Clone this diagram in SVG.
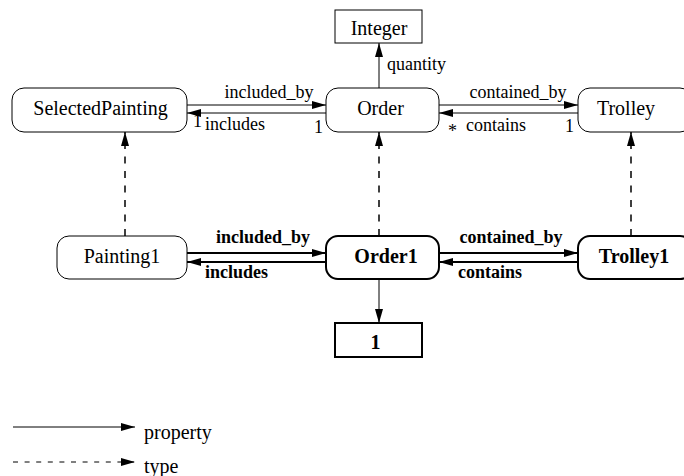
<svg xmlns="http://www.w3.org/2000/svg" width="684" height="476" viewBox="0 0 684 476" font-family="'Liberation Serif', 'Times New Roman', 'DejaVu Serif', serif">
  <defs>
    <style>
      text { font-family: "Liberation Serif", "Times New Roman", "DejaVu Serif", serif; fill: #000; }
      .name { font-size: 20px; text-anchor: middle; }
      .bold { font-weight: bold; }
      .lbl { font-size: 18px; }
      .leg { font-size: 20px; }
      .node { fill: #fff; stroke: #000; stroke-width: 1; }
      .inst { fill: #fff; stroke: #000; stroke-width: 2; }
      .prop { stroke: #000; stroke-width: 1; fill: none; }
      .propb { stroke: #000; stroke-width: 2; fill: none; }
      .type { stroke: #000; stroke-width: 1.5; fill: none; stroke-dasharray: 7 7.5; }
      .legtype { stroke: #000; stroke-width: 1; fill: none; stroke-dasharray: 5 6.6; }
    </style>
    <marker id="arr" viewBox="0 0 14 8" refX="14" refY="4" markerWidth="14" markerHeight="8" markerUnits="userSpaceOnUse" orient="auto">
      <path d="M0,0 L14,4 L0,8 Z" fill="#000"/>
    </marker>
  </defs>

  <!-- connectors -->
  <g id="connectors">
    <!-- class level properties -->
    <line class="prop" x1="187" y1="105" x2="326" y2="105" marker-end="url(#arr)"/>
    <line class="prop" x1="326" y1="113" x2="187" y2="113" marker-end="url(#arr)"/>
    <line class="prop" x1="439" y1="105" x2="578" y2="105" marker-end="url(#arr)"/>
    <line class="prop" x1="578" y1="113" x2="439" y2="113" marker-end="url(#arr)"/>
    <line class="prop" x1="379" y1="88" x2="379" y2="43" marker-end="url(#arr)"/>

    <!-- instance level properties -->
    <line class="propb" x1="187" y1="253" x2="326" y2="253" marker-end="url(#arr)"/>
    <line class="propb" x1="326" y1="262" x2="187" y2="262" marker-end="url(#arr)"/>
    <line class="propb" x1="439" y1="253" x2="578" y2="253" marker-end="url(#arr)"/>
    <line class="propb" x1="578" y1="262" x2="439" y2="262" marker-end="url(#arr)"/>
    <line class="prop" x1="379" y1="279" x2="379" y2="323" marker-end="url(#arr)"/>

    <!-- type links -->
    <line class="type" x1="125" y1="236" x2="125" y2="132" marker-end="url(#arr)"/>
    <line class="type" x1="379" y1="236" x2="379" y2="132" marker-end="url(#arr)"/>
    <line class="type" x1="631" y1="236" x2="631" y2="132" marker-end="url(#arr)"/>

    <!-- connector labels -->
    <text class="lbl" x="269" y="98" text-anchor="middle">included_by</text>
    <text class="lbl" x="205" y="130">includes</text>
    <text class="lbl" x="193" y="127">1</text>
    <text class="lbl" x="314" y="133">1</text>
    <text class="lbl" x="518" y="98" text-anchor="middle">contained_by</text>
    <text class="lbl" x="466" y="131">contains</text>
    <text class="lbl" x="448" y="137">*</text>
    <text class="lbl" x="565" y="132">1</text>
    <text class="lbl" x="387" y="70">quantity</text>

    <text class="lbl bold" x="263" y="243" text-anchor="middle">included_by</text>
    <text class="lbl bold" x="205" y="278">includes</text>
    <text class="lbl bold" x="511" y="243" text-anchor="middle">contained_by</text>
    <text class="lbl bold" x="458" y="278">contains</text>
  </g>

  <!-- class nodes -->
  <g id="integer">
    <rect class="node" x="335" y="10" width="87" height="33"/>
    <text class="name" x="379" y="35">Integer</text>
  </g>
  <g id="selectedpainting">
    <rect class="node" x="12" y="88" width="175" height="44" rx="12"/>
    <text class="name" x="100.5" y="115">SelectedPainting</text>
  </g>
  <g id="order">
    <rect class="node" x="326" y="88" width="113" height="44" rx="12"/>
    <text class="name" x="380.5" y="115">Order</text>
  </g>
  <g id="trolley">
    <rect class="node" x="578" y="88" width="114" height="44" rx="12"/>
    <text class="name" x="626" y="115">Trolley</text>
  </g>

  <!-- instance nodes -->
  <g id="painting1">
    <rect class="node" x="57" y="236" width="130" height="43" rx="12"/>
    <text class="name" x="122" y="263">Painting1</text>
  </g>
  <g id="order1">
    <rect class="inst" x="326" y="236" width="113" height="43" rx="12"/>
    <text class="name bold" x="386" y="263">Order1</text>
  </g>
  <g id="trolley1">
    <rect class="inst" x="578" y="236" width="114" height="43" rx="12"/>
    <text class="name bold" x="634" y="263">Trolley1</text>
  </g>
  <g id="value1">
    <rect class="inst" x="335" y="323" width="87" height="34"/>
    <text class="name bold" x="375.5" y="349">1</text>
  </g>

  <!-- legend -->
  <g id="legend">
    <line class="prop" x1="13" y1="427" x2="135" y2="427" marker-end="url(#arr)"/>
    <text class="leg" x="144" y="439">property</text>
    <line class="legtype" x1="13" y1="462" x2="135" y2="462" marker-end="url(#arr)"/>
    <text class="leg" x="144" y="473">type</text>
  </g>
</svg>
